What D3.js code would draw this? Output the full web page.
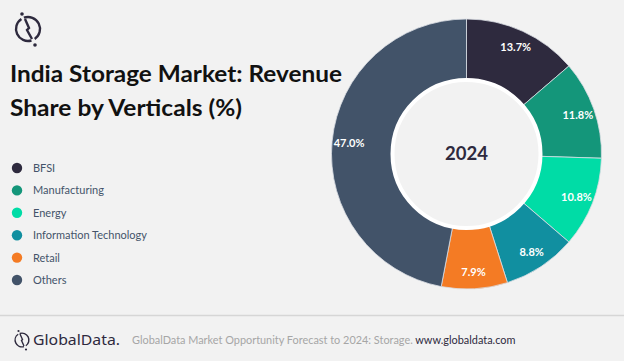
<!DOCTYPE html>
<html><head><meta charset="utf-8">
<script src="https://cdn.jsdelivr.net/npm/d3@7/dist/d3.min.js"></script>
<style>
html,body{margin:0;padding:0;background:#f2f2f2;}
svg{display:block;}
</style></head>
<body>
<svg id="c" width="624" height="361"></svg>
<script>
const categories = ["BFSI","Manufacturing","Energy","Information Technology","Retail","Others"];
const values = [13.7, 11.8, 10.8, 8.8, 7.9, 47.0];
const colors = ["#2e2a3e","#14967a","#00dca6","#118fa0","#f47b24","#425369"];
const centerLabel = "2024";
const titleLines = ["India Storage Market: Revenue","Share by Verticals (%)"];

const svg = d3.select("#c");
svg.append("rect").attr("width",624).attr("height",361).attr("fill","#f2f2f2");

// top logo
const lg = svg.append("g").attr("transform","translate(28,29)");
const arcL = d3.arc().innerRadius(10.8).outerRadius(13.2);
lg.append("path").attr("d", arcL({startAngle:-0.35, endAngle:2.55})).attr("fill","#2e2a3e");
lg.append("path").attr("d", arcL({startAngle:2.85, endAngle:5.7})).attr("fill","#2e2a3e");
lg.append("path").attr("d","M-3,-10 L1,-1 L-1,1 L4,10").attr("fill","none").attr("stroke","#2e2a3e").attr("stroke-width",2.4);
lg.append("circle").attr("cx",-6).attr("cy",-15).attr("r",1.8).attr("fill","#2e2a3e");
lg.append("circle").attr("cx",7).attr("cy",16).attr("r",1.8).attr("fill","#2e2a3e");

// title
svg.selectAll("text.title").data(titleLines).join("text")
  .attr("class","title")
  .attr("x",10).attr("y",(d,i)=>82+i*34)
  .attr("font-family","Lato, 'Open Sans', sans-serif").attr("font-weight","bold")
  .attr("font-size",23.5).attr("fill","#111")
  .attr("textLength",(d,i)=> i===0?332:232).attr("lengthAdjust","spacingAndGlyphs")
  .text(d=>d);

// legend
const leg = svg.append("g");
const ly = d3.scalePoint().domain(categories).range([168,280]);
leg.selectAll("circle").data(categories).join("circle")
  .attr("cx",17).attr("cy",d=>ly(d)).attr("r",5.2).attr("fill",(d,i)=>colors[i]);
leg.selectAll("text").data(categories).join("text")
  .attr("x",33).attr("y",d=>ly(d)+4)
  .attr("font-family","Lato, 'Open Sans', sans-serif").attr("font-size",11)
  .attr("fill","#44546a").text(d=>d);

// donut
const cx=466.5, cy=154, R=135, r0=75;
const pie = d3.pie().sort(null).value(d=>d);
const arcs = pie(values);
const arc = d3.arc().innerRadius(r0).outerRadius(R);
const g = svg.append("g").attr("transform",`translate(${cx},${cy})`);
g.selectAll("path").data(arcs).join("path")
  .attr("d",arc).attr("fill",(d,i)=>colors[i])
  .attr("stroke","#d9dde3").attr("stroke-width",0.8);
g.append("circle").attr("r",r0-1).attr("fill","#f2f2f2").attr("stroke","#ffffff").attr("stroke-width",4);
const labArc = d3.arc().innerRadius(118).outerRadius(118);
g.selectAll("text.lab").data(arcs).join("text").attr("class","lab")
  .attr("transform",d=>`translate(${labArc.centroid(d)})`)
  .attr("text-anchor","middle").attr("dy","0.35em")
  .attr("font-family","Lato, 'Open Sans', sans-serif").attr("font-weight","bold")
  .attr("font-size",11).attr("fill","#ffffff")
  .text(d=>d.data.toFixed(1)+"%");
g.append("text").attr("text-anchor","middle").attr("dy","0.35em")
  .attr("font-family","Lato, 'Open Sans', sans-serif").attr("font-weight","bold")
  .attr("font-size",18.5).attr("fill","#2e2a3e").text(centerLabel);

// footer
svg.append("line").attr("x1",0).attr("x2",624).attr("y1",315.5).attr("y2",315.5).attr("stroke","#d6d6d6").attr("stroke-width",1.5);
const fl = svg.append("g").attr("transform","translate(22,340)");
const arcS = d3.arc().innerRadius(6.2).outerRadius(7.6);
fl.append("path").attr("d", arcS({startAngle:-0.35, endAngle:2.55})).attr("fill","#2e2a3e");
fl.append("path").attr("d", arcS({startAngle:2.85, endAngle:5.7})).attr("fill","#2e2a3e");
fl.append("path").attr("d","M-2,-6 L0.5,-0.5 L-0.5,0.5 L2,6").attr("fill","none").attr("stroke","#2e2a3e").attr("stroke-width",1.4);
fl.append("circle").attr("cx",-3.5).attr("cy",-9).attr("r",1.1).attr("fill","#2e2a3e");
fl.append("circle").attr("cx",4).attr("cy",9.5).attr("r",1.1).attr("fill","#2e2a3e");
svg.append("text").attr("x",33).attr("y",345)
  .attr("font-family","'Noto Sans', 'Open Sans', sans-serif").attr("font-size",14.5)
  .attr("fill","#2e2a3e").attr("textLength",87).attr("lengthAdjust","spacingAndGlyphs").text("GlobalData.");
const ft = svg.append("text").attr("x",132).attr("y",344)
  .attr("font-family","Lato, 'Open Sans', sans-serif").attr("font-size",10.9);
ft.append("tspan").attr("fill","#a6a6a6").text("GlobalData Market Opportunity Forecast to 2024: Storage. ");
ft.append("tspan").attr("fill","#2e2a3e").text("www.globaldata.com");
</script>
</body></html>
